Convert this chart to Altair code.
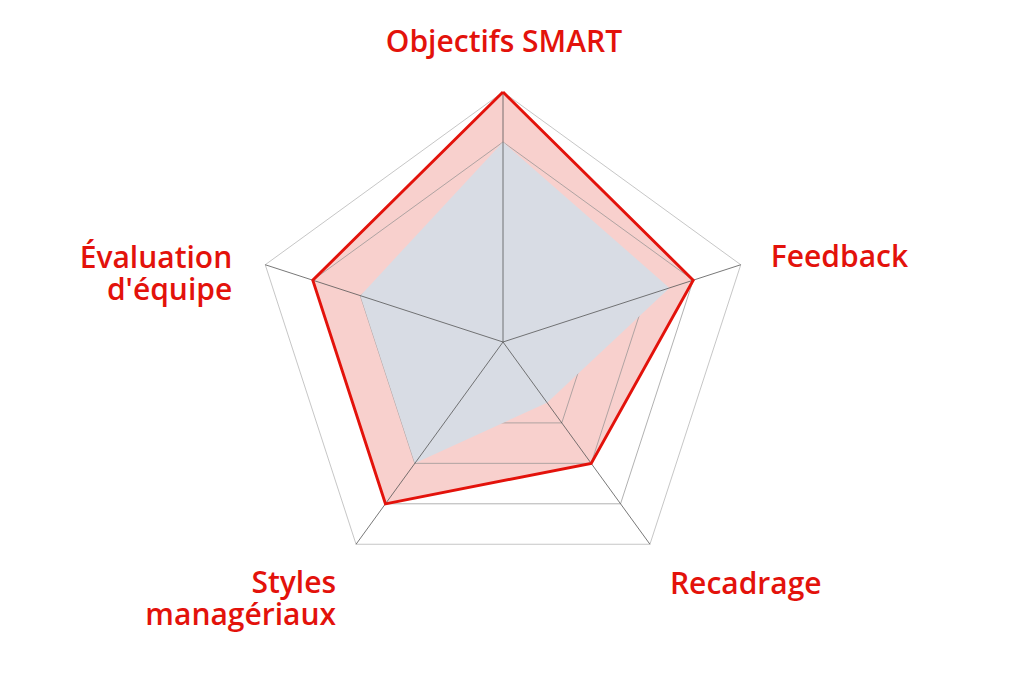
import altair as alt
import pandas as pd

# ---- data ----
categories = ["Objectifs SMART", "Feedback", "Recadrage", "Styles managériaux", "Évaluation d'équipe"]
label_text = ["Objectifs SMART", "Feedback", "Recadrage", "Styles\nmanagériaux", "Évaluation\nd'équipe"]
red_values = [5, 4, 3, 4, 4]
grey_values = [4, 3.5, 1.5, 3, 3]
grid_levels = [1, 2, 3, 4]
max_level = 5

n = len(categories)

def poly_rows(values, key):
    rows = []
    for i in range(n + 1):
        j = i % n
        rows.append({"series": key, "idx": i, "cat": categories[j], "value": values[j]})
    return rows

red_df = pd.DataFrame(poly_rows(red_values, "red"))
grey_df = pd.DataFrame(poly_rows(grey_values, "grey"))
grid_rows = []
for lv in grid_levels:
    grid_rows += poly_rows([lv] * n, f"g{lv}")
grid_df = pd.DataFrame(grid_rows)
outer_df = pd.DataFrame(poly_rows([max_level] * n, "outer"))
spoke_df = pd.DataFrame({"idx": list(range(n)), "cat": categories, "value": [max_level] * n})
label_df = pd.DataFrame({"idx": list(range(n)), "label": label_text, "value": [max_level] * n})

W, H = 1008, 667
xs = alt.Scale(domain=[-9.9, 10.26], nice=False, zero=False)
ys = alt.Scale(domain=[-6.66, 6.68], nice=False, zero=False)

ANG = "PI/2 - 2*PI*datum.idx/%d" % n

def calc(ch):
    return ch.transform_calculate(
        x="datum.value*cos(" + ANG + ")",
        y="datum.value*sin(" + ANG + ")",
    )

def enc_poly(ch):
    return calc(ch).encode(
        x=alt.X("x:Q", scale=xs, axis=None),
        y=alt.Y("y:Q", scale=ys, axis=None),
        order=alt.Order("idx:Q"),
        detail="series:N",
    )

RED = "#e3120b"
PINK = "#f8d0cd"
GREY = "#d8dce4"

pink_fill = enc_poly(alt.Chart(red_df).mark_line(fill=PINK, stroke=PINK, strokeWidth=0))
grid = enc_poly(alt.Chart(grid_df).mark_line(color="#8f8f8f", strokeWidth=0.7))
outer = enc_poly(alt.Chart(outer_df).mark_line(color="#b8b8b8", strokeWidth=0.8))
grey_fill = enc_poly(alt.Chart(grey_df).mark_line(fill=GREY, stroke=GREY, strokeWidth=0))
spokes = calc(alt.Chart(spoke_df).mark_rule(color="#555555", strokeWidth=0.8)).transform_calculate(
    x0="0", y0="0"
).encode(
    x=alt.X("x0:Q", scale=xs, axis=None),
    y=alt.Y("y0:Q", scale=ys, axis=None),
    x2="x:Q",
    y2="y:Q",
)
red_line = enc_poly(alt.Chart(red_df).mark_line(color=RED, strokeWidth=2.9, strokeJoin="miter"))

label_style = [
    dict(align="center", dx=1, dy=-40),
    dict(align="left", dx=30, dy=2),
    dict(align="left", dx=20, dy=50),
    dict(align="right", dx=-20, dy=49),
    dict(align="right", dx=-33, dy=3),
]

label_layers = []
for i, st in enumerate(label_style):
    t = calc(alt.Chart(label_df).transform_filter(f"datum.idx == {i}").mark_text(
        font="Open Sans", fontSize=30, fontWeight=600, color=RED,
        baseline="alphabetic", lineBreak="\n", lineHeight=32, **st
    )).encode(
        x=alt.X("x:Q", scale=xs, axis=None),
        y=alt.Y("y:Q", scale=ys, axis=None),
        text="label:N",
    )
    label_layers.append(t)

chart = alt.layer(
    pink_fill, grid, outer, grey_fill, spokes, red_line, *label_layers
).properties(
    width=W, height=H, padding=0, autosize=alt.AutoSizeParams(type="none")
).configure_view(strokeWidth=0)

chart.save("out.html", embed_options={"renderer": "svg", "actions": False})
